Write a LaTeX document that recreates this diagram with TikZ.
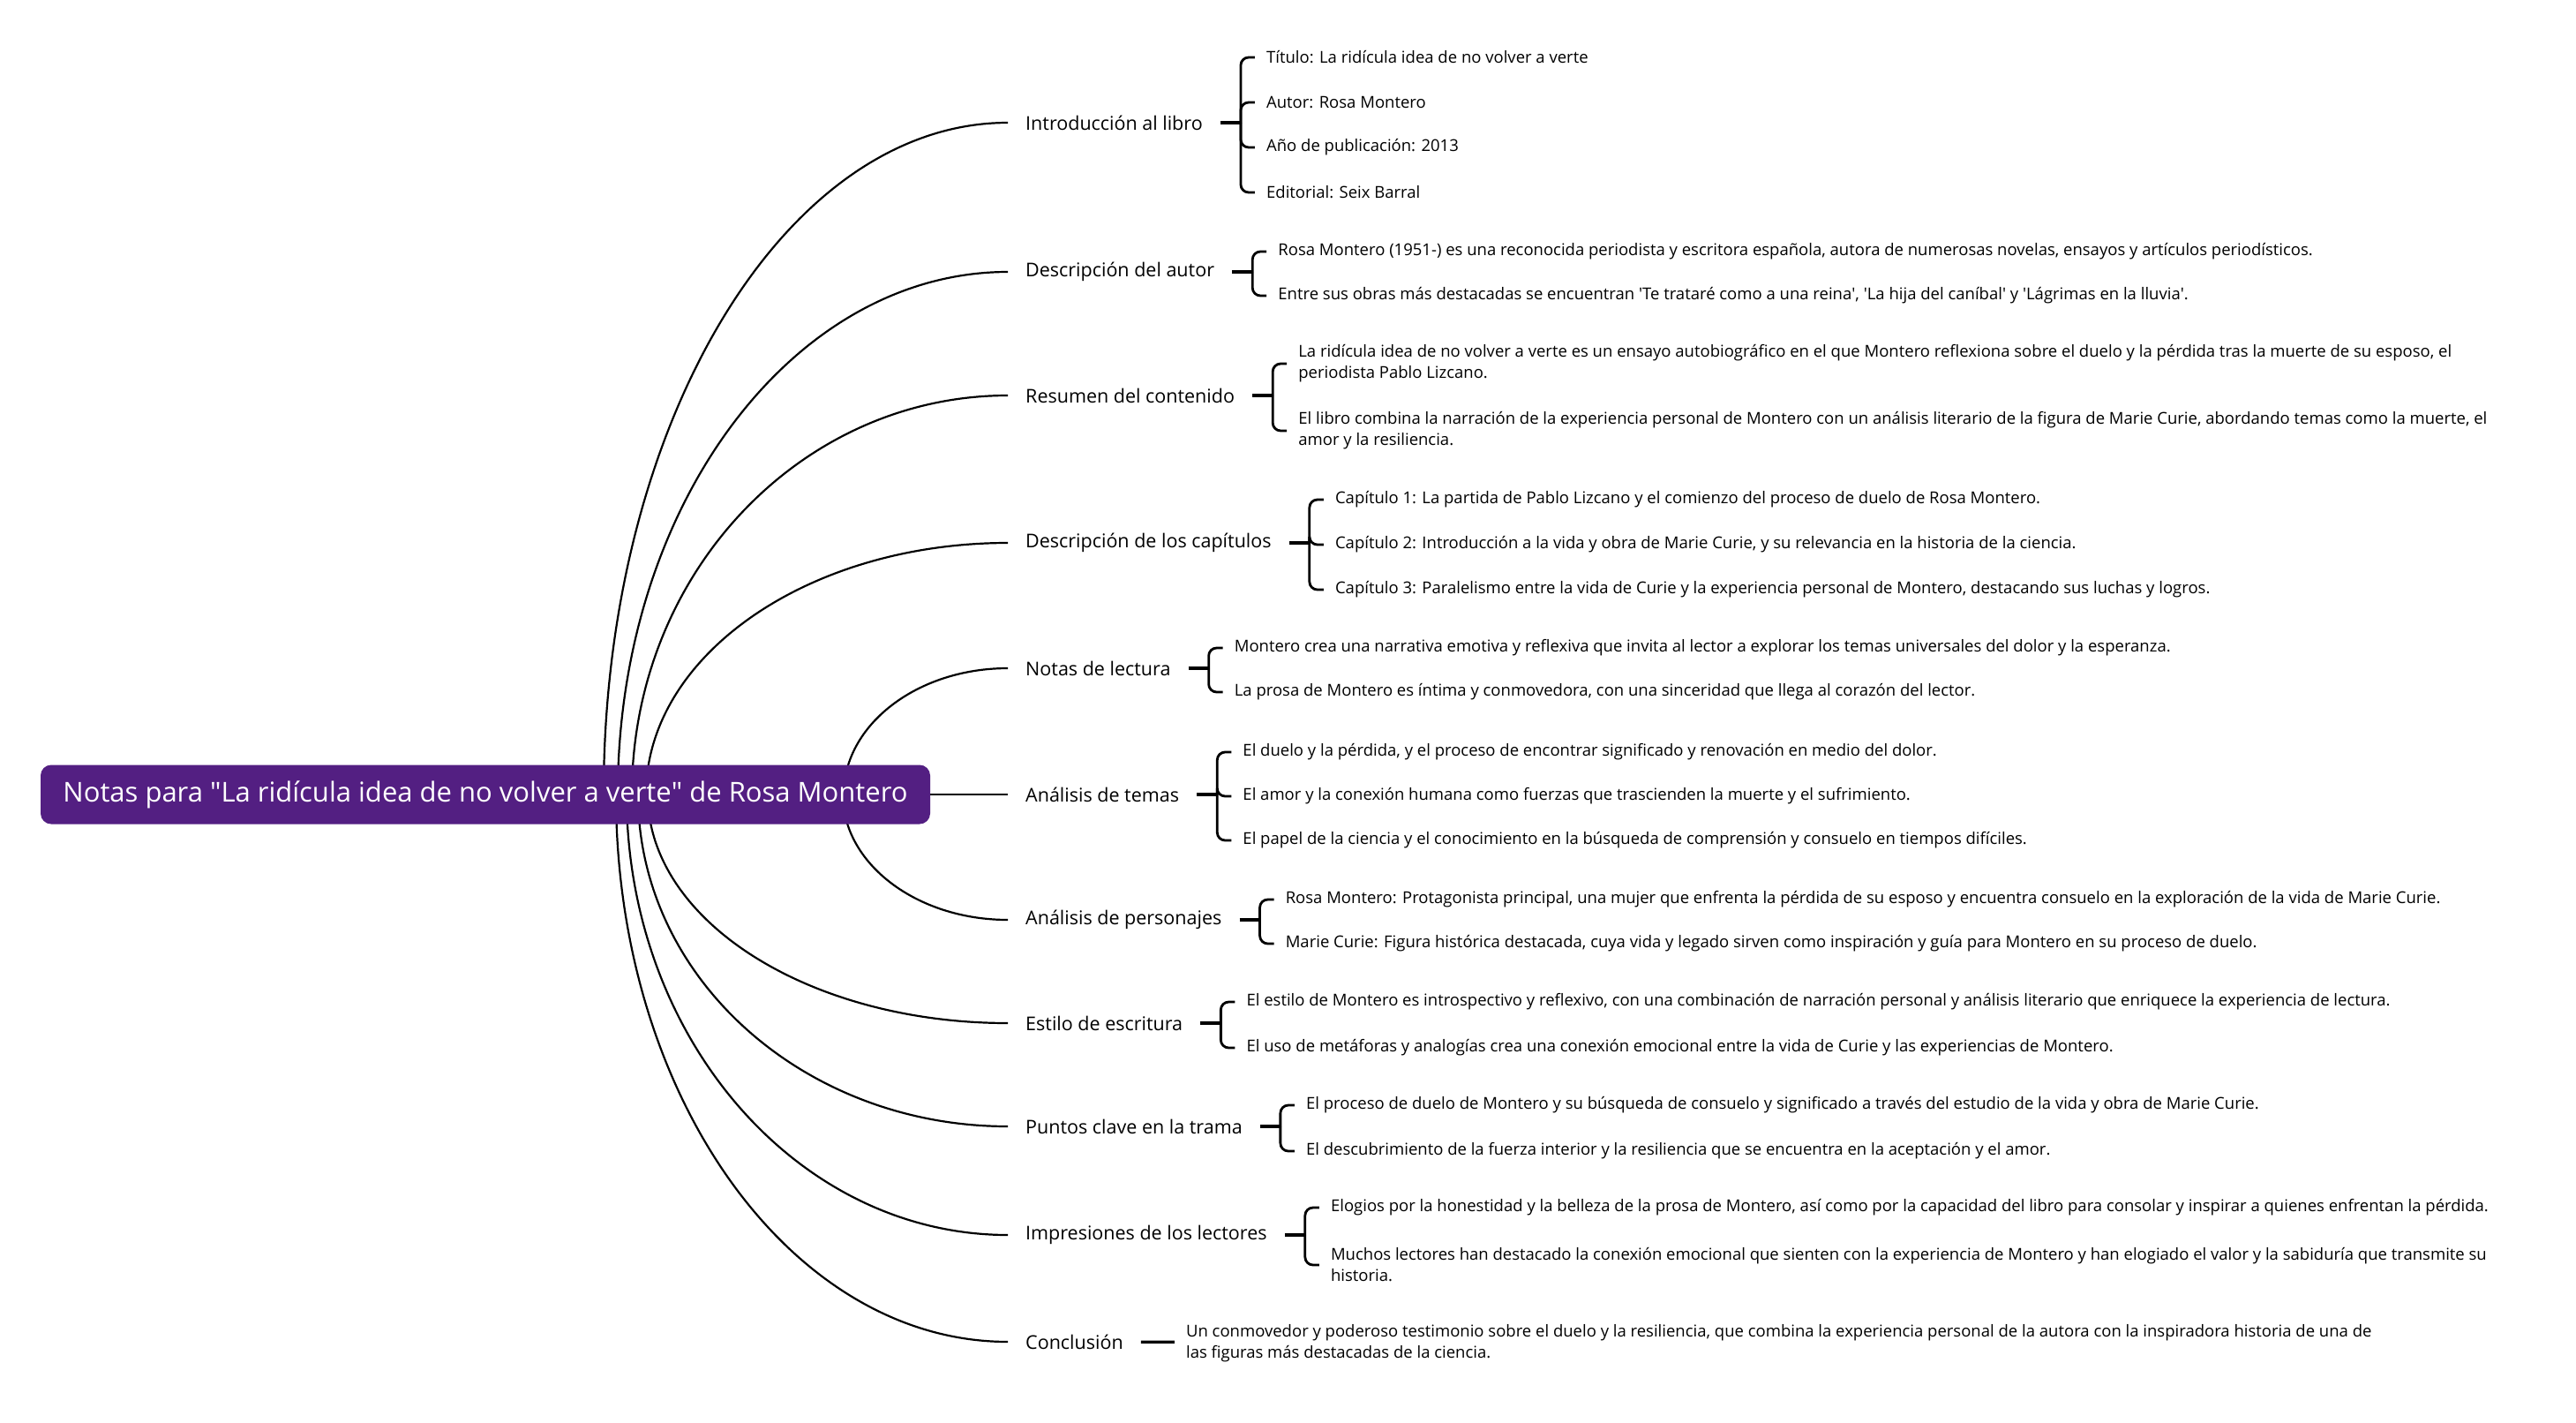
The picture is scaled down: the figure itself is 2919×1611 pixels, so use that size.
\documentclass[tikz,border=0pt]{standalone}
\usepackage{fontspec}
\setmainfont{Open Sans}
\usetikzlibrary{positioning, calc}

\definecolor{morado}{HTML}{531F82}

\begin{document}
\begin{tikzpicture}[
  x=1pt, y=-1pt,
  raiz/.style={
    rectangle, fill=morado, rounded corners=12pt,
    minimum width=1008pt, minimum height=67pt, inner sep=0pt,
    text=white, font=\fontsize{31}{36}\selectfont},
  tema/.style={
    anchor=west, inner xsep=20pt, inner ysep=4pt,
    font=\fontsize{21.5}{26}\selectfont},
  hoja/.style={
    anchor=west, inner xsep=13pt, inner ysep=3pt, align=left, yshift=-2pt,
    font=\fontsize{18.5}{24}\selectfont},
  rama/.style={line width=2.2pt},
  tallo/.style={line width=3.2pt},
  llave/.style={line width=2.8pt, rounded corners=9pt}
]
\fill[white] (0,0) rectangle (2919,1611);
\useasboundingbox (0,0) rectangle (2919,1611);
% ── Temas principales ──
\node[tema] (intro)       at (1142,139)  {Introducción al libro};
\node[tema] (autor)       at (1142,308)  {Descripción del autor};
\node[tema] (resumen)     at (1142,448)  {Resumen del contenido};
\node[tema] (capitulos)   at (1142,615)  {Descripción de los capítulos};
\node[tema] (notas)       at (1142,757)  {Notas de lectura};
\node[tema] (temas)       at (1142,900)  {Análisis de temas};
\node[tema] (personajes)  at (1142,1042) {Análisis de personajes};
\node[tema] (estilo)      at (1142,1159) {Estilo de escritura};
\node[tema] (puntos)      at (1142,1276) {Puntos clave en la trama};
\node[tema] (impresiones) at (1142,1399) {Impresiones de los lectores};
\node[tema] (conclusion)  at (1142,1520) {Conclusión};
% ── Ramas curvas desde la raiz ──
\foreach \r/\sx in {intro/684, autor/700, resumen/716, capitulos/732, notas/956,
                    personajes/955, estilo/734, puntos/723, impresiones/710, conclusion/698}{
  \coordinate (s-\r) at (\sx,900);
  \draw[rama] let \p1 = (s-\r), \p2 = (\r.west) in
    (s-\r) .. controls (\x1, {\y1+0.552*(\y2-\y1)}) and ({\x2-0.552*(\x2-\x1)}, \y2) .. (\r.west);
}
% ── Raiz ──
\node[raiz] (raiz) at (550,900) {Notas para \textquotedbl La ridícula idea de no volver a verte\textquotedbl{} de Rosa Montero};
\draw[rama] (raiz) -- (temas);
% ── Puntos de llave ──
\foreach \t in {intro, autor, resumen, capitulos, notas, temas, personajes, estilo, puntos, impresiones}
  \coordinate (\t-b) at ($(\t.east)+(23,0)$);
% ── Hojas ──
\node[hoja] (intro-1) at ($(intro-b |- 0,63)+(16,0)$)  {Título: La ridícula idea de no volver a verte};
\node[hoja] (intro-2) at ($(intro-b |- 0,114)+(16,0)$) {Autor: Rosa Montero};
\node[hoja] (intro-3) at ($(intro-b |- 0,165)+(16,0)$) {Año de publicación: 2013};
\node[hoja] (intro-4) at ($(intro-b |- 0,216)+(16,0)$) {Editorial: Seix Barral};
\node[hoja] (autor-1) at ($(autor-b |- 0,283)+(16,0)$) {Rosa Montero (1951-) es una reconocida periodista y escritora española, autora de numerosas novelas, ensayos y artículos periodísticos.};
\node[hoja] (autor-2) at ($(autor-b |- 0,333)+(16,0)$) {Entre sus obras más destacadas se encuentran \textquotesingle Te trataré como a una reina\textquotesingle, \textquotesingle La hija del caníbal\textquotesingle{} y \textquotesingle Lágrimas en la lluvia\textquotesingle.};
\node[hoja] (resumen-1) at ($(resumen-b |- 0,410)+(16,0)$) {La ridícula idea de no volver a verte es un ensayo autobiográfico en el que Montero reflexiona sobre el duelo y la pérdida tras la muerte de su esposo, el\\periodista Pablo Lizcano.};
\node[hoja] (resumen-2) at ($(resumen-b |- 0,486)+(16,0)$) {El libro combina la narración de la experiencia personal de Montero con un análisis literario de la figura de Marie Curie, abordando temas como la muerte, el\\amor y la resiliencia.};
\node[hoja] (capitulos-1) at ($(capitulos-b |- 0,564)+(16,0)$) {Capítulo 1: La partida de Pablo Lizcano y el comienzo del proceso de duelo de Rosa Montero.};
\node[hoja] (capitulos-2) at ($(capitulos-b |- 0,615)+(16,0)$) {Capítulo 2: Introducción a la vida y obra de Marie Curie, y su relevancia en la historia de la ciencia.};
\node[hoja] (capitulos-3) at ($(capitulos-b |- 0,666)+(16,0)$) {Capítulo 3: Paralelismo entre la vida de Curie y la experiencia personal de Montero, destacando sus luchas y logros.};
\node[hoja] (notas-1) at ($(notas-b |- 0,732)+(16,0)$) {Montero crea una narrativa emotiva y reflexiva que invita al lector a explorar los temas universales del dolor y la esperanza.};
\node[hoja] (notas-2) at ($(notas-b |- 0,782)+(16,0)$) {La prosa de Montero es íntima y conmovedora, con una sinceridad que llega al corazón del lector.};
\node[hoja] (temas-1) at ($(temas-b |- 0,850)+(16,0)$) {El duelo y la pérdida, y el proceso de encontrar significado y renovación en medio del dolor.};
\node[hoja] (temas-2) at ($(temas-b |- 0,900)+(16,0)$) {El amor y la conexión humana como fuerzas que trascienden la muerte y el sufrimiento.};
\node[hoja] (temas-3) at ($(temas-b |- 0,950)+(16,0)$) {El papel de la ciencia y el conocimiento en la búsqueda de comprensión y consuelo en tiempos difíciles.};
\node[hoja] (personajes-1) at ($(personajes-b |- 0,1017)+(16,0)$) {Rosa Montero: Protagonista principal, una mujer que enfrenta la pérdida de su esposo y encuentra consuelo en la exploración de la vida de Marie Curie.};
\node[hoja] (personajes-2) at ($(personajes-b |- 0,1067)+(16,0)$) {Marie Curie: Figura histórica destacada, cuya vida y legado sirven como inspiración y guía para Montero en su proceso de duelo.};
\node[hoja] (estilo-1) at ($(estilo-b |- 0,1133)+(16,0)$) {El estilo de Montero es introspectivo y reflexivo, con una combinación de narración personal y análisis literario que enriquece la experiencia de lectura.};
\node[hoja] (estilo-2) at ($(estilo-b |- 0,1185)+(16,0)$) {El uso de metáforas y analogías crea una conexión emocional entre la vida de Curie y las experiencias de Montero.};
\node[hoja] (puntos-1) at ($(puntos-b |- 0,1250)+(16,0)$) {El proceso de duelo de Montero y su búsqueda de consuelo y significado a través del estudio de la vida y obra de Marie Curie.};
\node[hoja] (puntos-2) at ($(puntos-b |- 0,1302)+(16,0)$) {El descubrimiento de la fuerza interior y la resiliencia que se encuentra en la aceptación y el amor.};
\node[hoja] (impresiones-1) at ($(impresiones-b |- 0,1366)+(16,0)$) {Elogios por la honestidad y la belleza de la prosa de Montero, así como por la capacidad del libro para consolar y inspirar a quienes enfrentan la pérdida.};
\node[hoja] (impresiones-2) at ($(impresiones-b |- 0,1431)+(16,0)$) {Muchos lectores han destacado la conexión emocional que sienten con la experiencia de Montero y han elogiado el valor y la sabiduría que transmite su\\historia.};
\node[hoja] (conclusion-1) at ($(conclusion.east)+(38,0)$) {Un conmovedor y poderoso testimonio sobre el duelo y la resiliencia, que combina la experiencia personal de la autora con la inspiradora historia de una de\\las figuras más destacadas de la ciencia.};
% ── Llaves ──
\foreach \t/\k in {intro/4, autor/2, resumen/2, capitulos/3, notas/2, temas/3,
                   personajes/2, estilo/2, puntos/2, impresiones/2}{
  \draw[tallo] (\t) -- (\t-b);
  \foreach \i in {1,...,\k}
    \draw[llave] (\t-b) |- (\t-\i);
}
\draw[tallo] (conclusion) -- (conclusion-1);
\end{tikzpicture}
\end{document}
